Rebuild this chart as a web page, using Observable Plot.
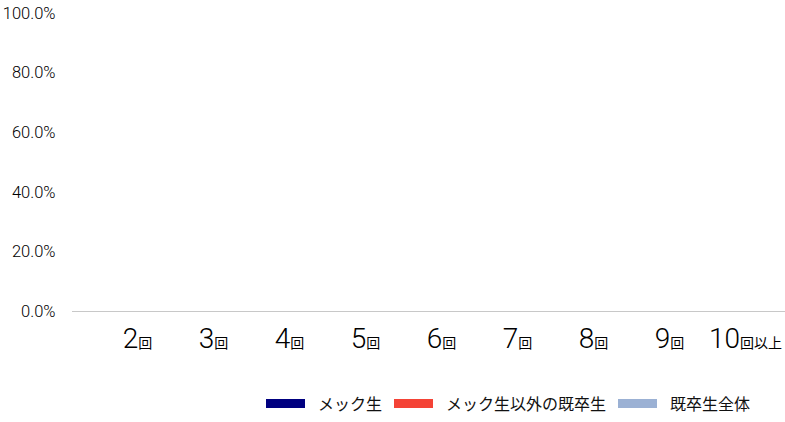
<!DOCTYPE html>
<html>
<head>
<meta charset="utf-8">
<script src="https://cdn.jsdelivr.net/npm/d3@7"></script>
<script src="https://cdn.jsdelivr.net/npm/@observablehq/plot@0.6"></script>
<style>
  body { margin: 0; background: #fff; font-family: "Roboto", "Noto Sans CJK JP", sans-serif; }
  #chart svg { display: block; }
  #legend { display: flex; margin-top: 21px; margin-left: 266px; font-family: "Noto Sans CJK JP", sans-serif; font-size: 16px; color: #111; }
  .item { display: flex; align-items: center; margin-right: 12px; }
  .sw { width: 39px; height: 9px; margin-right: 13px; }
</style>
</head>
<body>
<div id="chart"></div>
<div id="legend"></div>
<script>
const categories = ["2回", "3回", "4回", "5回", "6回", "7回", "8回", "9回", "10回以上"];
const seriesNames = ["メック生", "メック生以外の既卒生", "既卒生全体"];
const seriesColors = ["#000080", "#f44336", "#9bb1d4"];
const yTicks = [0, 0.2, 0.4, 0.6, 0.8, 1.0];
// The reference chart shows no bars: every series is empty.
const mecValues = [];
const otherValues = [];
const allValues = [];

const rows = [
  ...mecValues.map((v, i) => ({category: categories[i], series: seriesNames[0], value: v})),
  ...otherValues.map((v, i) => ({category: categories[i], series: seriesNames[1], value: v})),
  ...allValues.map((v, i) => ({category: categories[i], series: seriesNames[2], value: v}))
];

const chart = Plot.plot({
  width: 785,
  height: 370,
  marginTop: 13,
  marginBottom: 59,
  marginLeft: 72,
  marginRight: 0,
  style: {fontFamily: '"Roboto", "Noto Sans CJK JP", sans-serif', color: "#000"},
  x: {domain: categories, range: [93, 789], padding: 0.1},
  y: {domain: [0, 1]},
  color: {domain: seriesNames, range: seriesColors},
  marks: [
    Plot.axisY({ticks: yTicks, tickSize: 0, tickPadding: 17, tickFormat: d => (d * 100).toFixed(1) + "%", fontSize: 16.5, fontWeight: 300, fill: "#000", label: null}),
    Plot.axisX({tickSize: 0, tickPadding: 17, fontSize: 28, fontWeight: 300, fill: "#000", label: null}),
    Plot.ruleY([0], {stroke: "#c8c8c8", strokeWidth: 1}),
    Plot.barY(rows, {x: "category", y: "value", fill: "series"})
  ]
});

// style category labels: numeral large, Japanese part small
d3.select(chart).selectAll('[aria-label="x-axis tick label"] text').each(function() {
  const t = d3.select(this);
  const s = t.text();
  const m = s.match(/^(\d+)(.*)$/);
  if (!m) return;
  t.text(null);
  t.append("tspan").text(m[1]).attr("font-size", 28);
  t.append("tspan").text(m[2]).attr("font-size", 14).attr("font-weight", 400).attr("font-family", '"Noto Sans CJK JP", sans-serif');
});

document.getElementById("chart").appendChild(chart);

const leg = d3.select("#legend");
seriesNames.forEach((n, i) => {
  const it = leg.append("div").attr("class", "item");
  it.append("div").attr("class", "sw").style("background", seriesColors[i]);
  it.append("span").text(n);
});
</script>
</body>
</html>
